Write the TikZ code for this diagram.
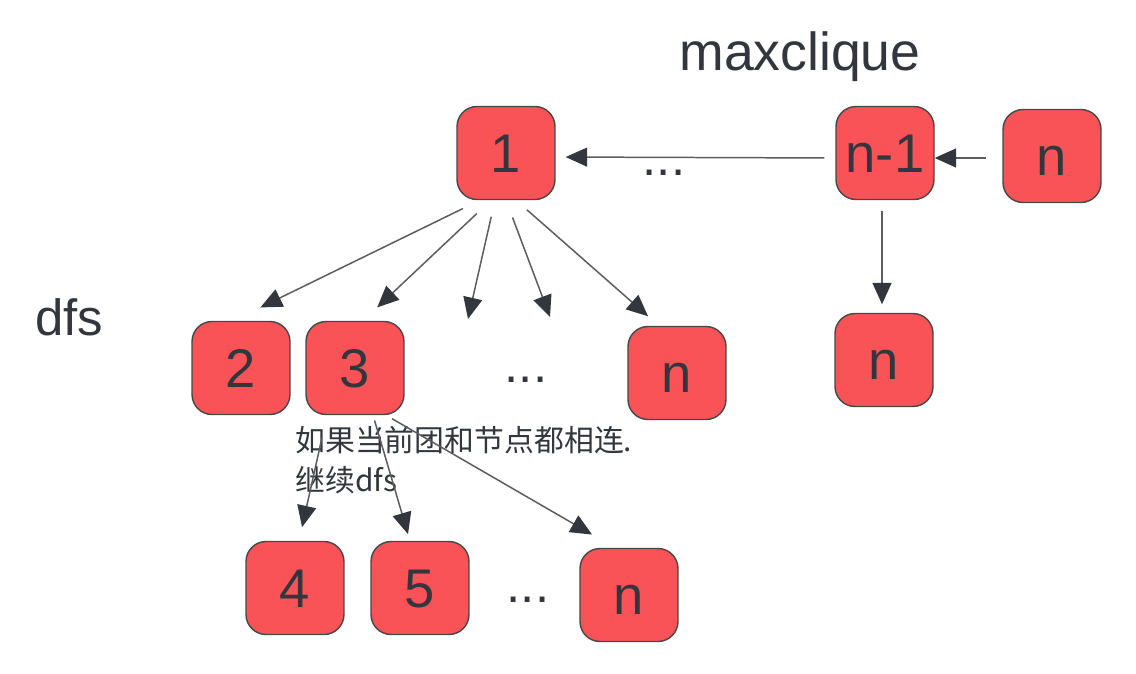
\documentclass[tikz,border=0pt]{standalone}
\usepackage{tikz}
\usetikzlibrary{shapes.geometric, arrows.meta}
\usepackage{xcolor}
\usepackage{fontspec}
\setmainfont{Liberation Sans}
\newfontfamily\cjk{Noto Sans CJK SC}
\definecolor{boxred}{HTML}{F95357}
\definecolor{boxline}{HTML}{474747}
\definecolor{inkgray}{HTML}{33373D}
\definecolor{linegray}{HTML}{5C5C5C}
\begin{document}
\begin{tikzpicture}[x=0.02cm,y=-0.02cm,
	box/.style={rectangle,draw=boxline,line width=0.8pt,fill=boxred,rounded corners=0.4cm,minimum width=1.96cm,minimum height=1.86cm,inner sep=0pt,text=inkgray,font=\fontsize{31}{37}\selectfont,text height=22pt,text depth=0pt},
	arr/.style={draw=linegray,line width=0.85pt,-{Triangle[length=0.43cm,width=0.38cm,color=inkgray]}},
	big/.style={text=inkgray,inner sep=0pt,font=\fontsize{29}{35}\selectfont}]
				\useasboundingbox (0,0) rectangle (1136,673);
				% top row
				\node (one) [box] at (506,153) {1};
				\node (nm1) [box] at (885,153) {n-1};
				\node (ntop) [box] at (1052,156) {n};
				\node (nr) [box] at (884,360) {n};
				% dfs row
				\node (two) [box] at (241,368) {2};
				\node (three) [box] at (355,368) {3};
				\node (nmid) [box] at (677,373) {n};
				% next level
				\node (four) [box] at (295,588) {4};
				\node (five) [box] at (420,588) {5};
				\node (nbot) [box] at (629,595) {n};
				\coordinate (d1) at (468,319);
				\coordinate (d2) at (550,317);
				% labels
				\node (title) [big,anchor=base,font=\fontsize{30.5}{36}\selectfont] at (800,70) {maxclique};
				\node (dfs) [big,anchor=base west] at (35,335) {dfs};
				\node (dots1) [big,anchor=base] at (664,175) {...};
				\node (dots2) [big,anchor=base] at (526,382) {...};
				\node (dots3) [big,anchor=base] at (528,602) {...};
				\node (note) [anchor=north west,inner sep=0pt,align=left,text=inkgray,font=\cjk\fontsize{17}{22.7}\selectfont] at (295,426) {如果当前团和节点都相连.\\继续dfs};
				% maxclique chain
				\draw [arr,shorten <=0.32cm]([shift={(0,2)}]ntop.west) -- ([shift={(0,5)}]nm1.east);
				\draw [arr,shorten <=0.22cm,shorten >=0.2cm]([shift={(0,5)}]nm1.west) -- ([shift={(0,4)}]one.east);
				\draw [arr,shorten <=0.21cm,shorten >=0.17cm]([shift={(-3,0)}]nm1.south) -- ([shift={(-2,0)}]nr.north);
				% dfs from 1
				\draw [arr,shorten <=0.38cm,shorten >=0.61cm]([shift={(-26,0)}]one.south) -- ([shift={(-8,0)}]two.north);
				\draw [arr,shorten <=0.39cm,shorten >=0.39cm]([shift={(-15,0)}]one.south) -- ([shift={(8,0)}]three.north);
				\draw [arr,shorten <=0.34cm]([shift={(-11,0)}]one.south) -- (d1);
				\draw [arr,shorten <=0.37cm](one.south) -- (d2);
				\draw [arr,shorten <=0.29cm,shorten >=0.29cm]([shift={(10,0)}]one.south) -- ([shift={(-18,0)}]nmid.north);
				% dfs from 3
				\draw [arr,shorten <=0.48cm,shorten >=0.28cm]([shift={(-28,0)}]three.south) -- ([shift={(4,0)}]four.north);
				\draw [arr,shorten <=0.11cm,shorten >=0.14cm]([shift={(18,0)}]three.south) -- ([shift={(-10,0)}]five.north);
				\draw [arr,shorten <=0.14cm,shorten >=0.53cm]([shift={(31,0)}]three.south) -- ([shift={(-14,0)}]nbot.north);
			\end{tikzpicture}
\end{document}
